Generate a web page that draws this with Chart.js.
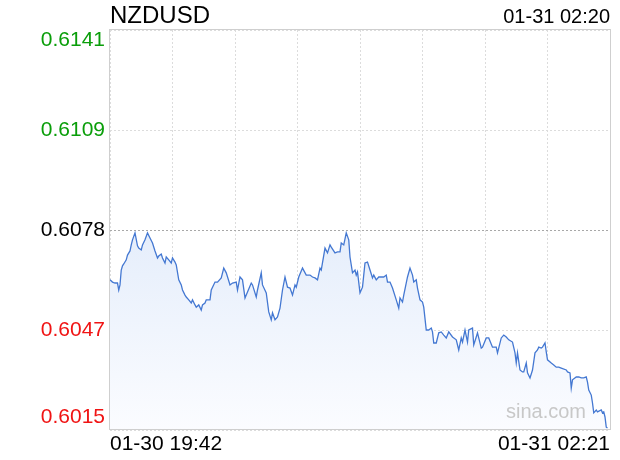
<!DOCTYPE html>
<html>
<head>
<meta charset="utf-8">
<title>NZDUSD</title>
<script src="https://cdn.jsdelivr.net/npm/chart.js@4"></script>
<style>
  html, body { margin: 0; padding: 0; background: #fff; }
  canvas { display: block; }
</style>
</head>
<body>
<canvas id="fxChart" width="620" height="460"></canvas>
<script>
// minutes after 01-30 19:42
const minutes = [
  0, 2, 4, 6, 7, 8, 9, 10, 11, 13,
  14, 16, 17, 18, 20, 22, 23, 25, 26, 28,
  30, 32, 34, 36, 38, 39, 41, 42, 44, 45,
  47, 49, 50, 52, 53, 55, 57, 58, 60, 61,
  63, 65, 66, 68, 69, 71, 73, 74, 76, 77,
  80, 81, 84, 86, 89, 91, 93, 96, 98, 101,
  102, 104, 106, 108, 110, 113, 114, 117, 118, 121,
  122, 125, 127, 129, 130, 132, 134, 136, 138, 140,
  142, 144, 146, 148, 149, 151, 154, 157, 160, 162,
  164, 166, 168, 169, 172, 174, 176, 177, 180, 182,
  184, 185, 187, 189, 191, 192, 194, 196, 197, 198,
  200, 202, 204, 206, 208, 210, 211, 213, 215, 219,
  221, 222, 224, 226, 229, 231, 232, 234, 235, 238,
  240, 242, 243, 245, 246, 248, 250, 251, 253, 255,
  257, 258, 259, 261, 263, 265, 267, 269, 271, 274,
  277, 279, 281, 282, 284, 286, 287, 290, 291, 293,
  294, 297, 298, 301, 303, 306, 309, 310, 313, 315,
  317, 319, 322, 324, 325, 326, 328, 330, 331, 333,
  334, 336, 338, 340, 342, 343, 345, 346, 348, 349,
  350, 353, 355, 357, 359, 361, 365, 366, 368, 369,
  370, 373, 375, 377, 379, 381, 382, 383, 385, 386,
  387, 389, 390, 393, 394, 395, 396, 397, 398
];

const prices = [
  0.60623, 0.60616, 0.60613, 0.60613, 0.60591, 0.60607, 0.60654, 0.60667, 0.60673, 0.60686,
  0.60701, 0.60714, 0.60733, 0.60749, 0.60771, 0.60730, 0.60723, 0.60717, 0.60733, 0.60749,
  0.60771, 0.60755, 0.60739, 0.60714, 0.60692, 0.60698, 0.60704, 0.60692, 0.60676, 0.60695,
  0.60686, 0.60676, 0.60692, 0.60679, 0.60670, 0.60623, 0.60607, 0.60591, 0.60575, 0.60569,
  0.60560, 0.60550, 0.60560, 0.60544, 0.60537, 0.60544, 0.60528, 0.60544, 0.60550, 0.60560,
  0.60560, 0.60591, 0.60616, 0.60616, 0.60629, 0.60660, 0.60645, 0.60607, 0.60613, 0.60616,
  0.60591, 0.60632, 0.60623, 0.60566, 0.60585, 0.60613, 0.60607, 0.60569, 0.60591, 0.60645,
  0.60607, 0.60582, 0.60522, 0.60497, 0.60519, 0.60497, 0.60506, 0.60534, 0.60591, 0.60632,
  0.60600, 0.60597, 0.60575, 0.60607, 0.60600, 0.60632, 0.60660, 0.60638, 0.60638, 0.60632,
  0.60629, 0.60623, 0.60660, 0.60654, 0.60723, 0.60708, 0.60733, 0.60726, 0.60708, 0.60711,
  0.60711, 0.60739, 0.60733, 0.60771, 0.60749, 0.60695, 0.60645, 0.60654, 0.60638, 0.60648,
  0.60582, 0.60600, 0.60676, 0.60679, 0.60654, 0.60629, 0.60638, 0.60623, 0.60632, 0.60632,
  0.60638, 0.60616, 0.60616, 0.60597, 0.60560, 0.60534, 0.60566, 0.60553, 0.60575, 0.60632,
  0.60660, 0.60638, 0.60616, 0.60623, 0.60597, 0.60560, 0.60553, 0.60537, 0.60465, 0.60465,
  0.60471, 0.60459, 0.60424, 0.60424, 0.60456, 0.60459, 0.60449, 0.60440, 0.60459, 0.60443,
  0.60434, 0.60402, 0.60440, 0.60427, 0.60465, 0.60427, 0.60465, 0.60471, 0.60418, 0.60443,
  0.60456, 0.60408, 0.60411, 0.60440, 0.60440, 0.60411, 0.60411, 0.60393, 0.60440, 0.60449,
  0.60443, 0.60434, 0.60427, 0.60393, 0.60361, 0.60393, 0.60339, 0.60333, 0.60333, 0.60361,
  0.60330, 0.60314, 0.60339, 0.60393, 0.60402, 0.60411, 0.60408, 0.60411, 0.60424, 0.60396,
  0.60371, 0.60361, 0.60355, 0.60348, 0.60348, 0.60345, 0.60339, 0.60333, 0.60330, 0.60282,
  0.60308, 0.60317, 0.60317, 0.60314, 0.60314, 0.60317, 0.60301, 0.60276, 0.60260, 0.60235,
  0.60204, 0.60213, 0.60207, 0.60213, 0.60204, 0.60207, 0.60191, 0.60159, 0.60156
];

const yTicks = [0.6015, 0.60465, 0.6078, 0.61095, 0.6141];
const yTickLabels = ["0.6015", "0.6047", "0.6078", "0.6109", "0.6141"];
const prevClose = 0.6078;
const xTicks = [0, 50, 100, 150, 200, 250, 300, 350, 400];
const xStartLabel = "01-30 19:42";
const xEndLabel = "01-31 02:21";
const symbol = "NZDUSD";
const stamp = "01-31 02:20";

const FONT = '"Liberation Sans", Arial, Helvetica, sans-serif';

const textPlugin = {
  id: "sinaText",
  afterDraw(chart) {
    const ctx = chart.ctx;
    const a = chart.chartArea;
    const yScale = chart.scales.y;
    ctx.save();

    // watermark
    ctx.font = "20px " + FONT;
    ctx.fillStyle = "#c8c8c8";
    ctx.textAlign = "right";
    ctx.textBaseline = "middle";
    ctx.fillText("sina.com", a.right - 24, a.bottom - 18);

    // frame
    ctx.strokeStyle = "#cfcfcf";
    ctx.lineWidth = 1;
    ctx.strokeRect(a.left - 0.5, a.top - 0.5, a.right - a.left + 1, a.bottom - a.top);

    // header
    ctx.fillStyle = "#000";
    ctx.font = "24px " + FONT;
    ctx.textAlign = "left";
    ctx.fillText(symbol, a.left, 16);
    ctx.font = "20px " + FONT;
    ctx.textAlign = "right";
    ctx.fillText(stamp, a.right, 17);

    // y labels, kept inside the plot box
    ctx.font = "21px " + FONT;
    yTicks.forEach(function (v, i) {
      let py = yScale.getPixelForValue(v);
      py = Math.min(Math.max(py, a.top + 10), a.bottom - 13);
      if (v > prevClose + 1e-6) ctx.fillStyle = "#0a9e0a";
      else if (v < prevClose - 1e-6) ctx.fillStyle = "#f01414";
      else ctx.fillStyle = "#000";
      ctx.fillText(yTickLabels[i], a.left - 5, py);
    });
    ctx.restore();
  }
};

const ctx = document.getElementById("fxChart").getContext("2d");

new Chart(ctx, {
  type: "line",
  data: {
    datasets: [{
      label: symbol,
      data: minutes.map(function (m, i) { return { x: m, y: prices[i] }; }),
      borderColor: "#4478d2",
      borderWidth: 1.3,
      pointRadius: 0,
      tension: 0,
      fill: "start",
      backgroundColor: function (context) {
        const area = context.chart.chartArea;
        if (!area) return "rgba(230,238,250,0.8)";
        const g = context.chart.ctx.createLinearGradient(0, area.top + 190, 0, area.bottom);
        g.addColorStop(0, "rgba(228,237,251,1)");
        g.addColorStop(1, "rgba(251,252,255,1)");
        return g;
      }
    }]
  },
  options: {
    responsive: false,
    animation: false,
    devicePixelRatio: 1,
    layout: { padding: { top: 30, right: 10, left: 0, bottom: 0 } },
    plugins: {
      legend: { display: false },
      tooltip: { enabled: false },
      title: { display: false }
    },
    scales: {
      x: {
        type: "linear",
        min: 0,
        max: 400,
        afterBuildTicks: function (scale) {
          scale.ticks = xTicks.map(function (v) { return { value: v }; });
        },
        afterFit: function (scale) { scale.height = 30; },
        ticks: {
          autoSkip: false,
          maxRotation: 0,
          align: "inner",
          padding: 2,
          color: "#000",
          font: { family: FONT, size: 21 },
          callback: function (v, i, ticks) {
            if (i === 0) return xStartLabel;
            if (i === ticks.length - 1) return xEndLabel;
            return "";
          }
        },
        grid: { color: "#dcdcdc", drawTicks: false },
        border: { display: false, dash: [2, 2] }
      },
      y: {
        min: 0.6015,
        max: 0.6141,
        afterBuildTicks: function (scale) {
          scale.ticks = yTicks.map(function (v) { return { value: v }; });
        },
        afterFit: function (scale) { scale.width = 110; },
        ticks: { display: false },
        grid: {
          drawTicks: false,
          color: function (c) {
            return c.tick && Math.abs(c.tick.value - prevClose) < 1e-6 ? "#a8a8a8" : "#dcdcdc";
          }
        },
        border: { display: false, dash: [2, 2] }
      }
    }
  },
  plugins: [textPlugin]
});
</script>
</body>
</html>
